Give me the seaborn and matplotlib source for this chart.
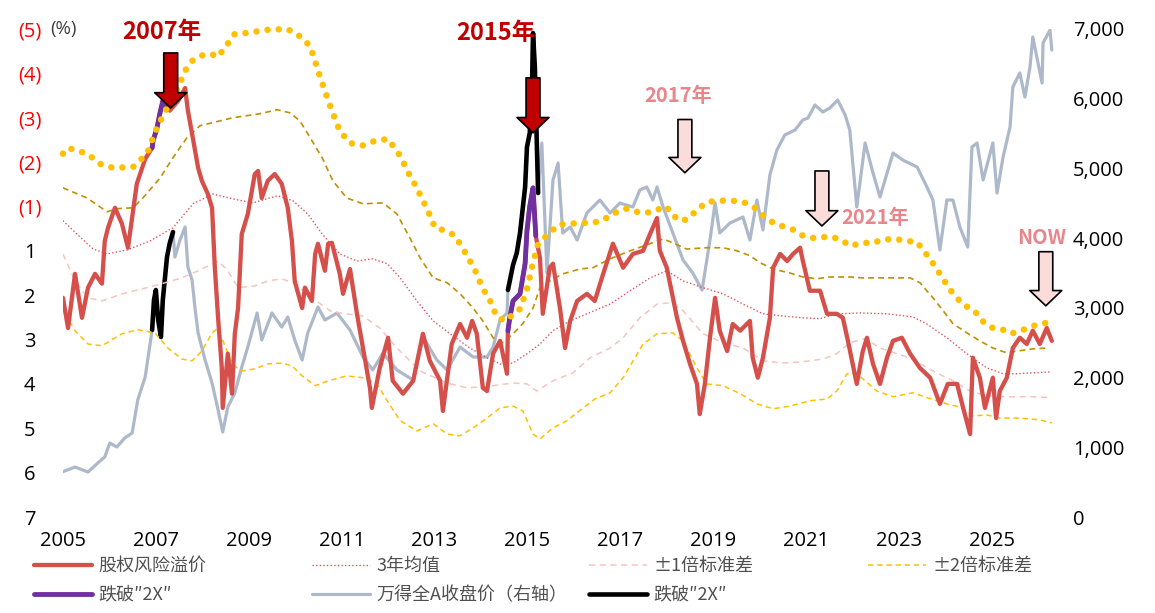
import numpy as np
import pandas as pd
import matplotlib
matplotlib.use("Agg")
import matplotlib.pyplot as plt
import seaborn as sns
from matplotlib.lines import Line2D

# equity risk premium (left axis, inverted), (year, value)
erp = [(2005.00, 2.06), (2005.11, 2.74), (2005.26, 1.52), (2005.41, 2.51), (2005.54, 1.83), (2005.69, 1.52),
       (2005.84, 1.74), (2005.90, 0.78), (2005.97, 0.48), (2006.12, 0.03), (2006.27, 0.39), (2006.40, 0.93),
       (2006.59, -0.51), (2006.77, -1.07), (2006.92, -1.32), (2006.94, -1.48), (2007.02, -1.75), (2007.09, -2.11),
       (2007.15, -2.38), (2007.22, -2.27), (2007.30, -2.16), (2007.48, -2.38), (2007.63, -2.67), (2007.69, -2.16),
       (2007.78, -1.64), (2007.91, -0.87), (2007.99, -0.58), (2008.12, -0.28), (2008.21, 0.03), (2008.27, 1.38),
       (2008.34, 2.51), (2008.42, 3.64), (2008.44, 4.54), (2008.55, 3.32), (2008.64, 4.22), (2008.70, 2.87),
       (2008.77, 2.29), (2008.85, 0.62), (2008.98, 0.17), (2009.13, -0.73), (2009.20, -0.80), (2009.28, -0.19),
       (2009.41, -0.58), (2009.56, -0.73), (2009.71, -0.51), (2009.84, 0.03), (2009.93, 0.78), (2009.99, 1.68),
       (2010.15, 2.29), (2010.21, 1.83), (2010.36, 2.13), (2010.43, 1.07), (2010.49, 0.84), (2010.64, 1.45),
       (2010.71, 0.84), (2010.79, 0.82), (2010.96, 1.52), (2011.03, 1.97), (2011.18, 1.41), (2011.33, 2.42),
       (2011.46, 3.19), (2011.61, 4.09), (2011.65, 4.54), (2011.82, 3.64), (2012.00, 2.96), (2012.10, 3.93),
       (2012.32, 4.22), (2012.54, 3.93), (2012.75, 2.87), (2012.90, 3.48), (2013.12, 3.93), (2013.18, 4.61),
       (2013.37, 3.10), (2013.55, 2.65), (2013.70, 2.96), (2013.81, 2.58), (2013.91, 2.87), (2014.04, 4.09),
       (2014.13, 4.16), (2014.26, 3.32), (2014.41, 3.03), (2014.56, 3.77), (2014.58, 2.80), (2014.62, 2.51),
       (2014.69, 2.13), (2014.84, 1.97), (2014.95, 1.29), (2014.99, 0.55), (2015.05, -0.01), (2015.12, -0.42),
       (2015.18, 0.66), (2015.20, 0.78), (2015.27, 1.16), (2015.33, 2.42), (2015.48, 1.38), (2015.55, 1.29),
       (2015.70, 2.29), (2015.81, 3.19), (2015.92, 2.58), (2016.07, 2.13), (2016.28, 1.97), (2016.45, 2.13),
       (2016.63, 1.52), (2016.84, 0.84), (2017.06, 1.38), (2017.27, 1.07), (2017.49, 1.00), (2017.64, 0.62),
       (2017.79, 0.26), (2017.85, 1.00), (2018.00, 1.38), (2018.07, 1.74), (2018.22, 2.51), (2018.35, 3.03),
       (2018.50, 3.55), (2018.65, 4.00), (2018.71, 4.68), (2018.82, 4.00), (2018.93, 2.96), (2019.04, 2.06),
       (2019.14, 2.80), (2019.30, 3.26), (2019.42, 2.65), (2019.58, 2.80), (2019.79, 2.58), (2019.85, 3.41),
       (2019.96, 3.86), (2020.07, 3.41), (2020.22, 2.51), (2020.29, 1.38), (2020.44, 1.07), (2020.59, 1.23),
       (2020.72, 1.07), (2020.87, 0.93), (2020.93, 1.23), (2021.08, 1.90), (2021.30, 1.90), (2021.45, 2.42),
       (2021.66, 2.42), (2021.79, 2.51), (2021.90, 3.03), (2022.09, 4.00), (2022.22, 3.26), (2022.31, 2.96),
       (2022.44, 3.55), (2022.59, 4.00), (2022.74, 3.41), (2022.87, 3.03), (2023.06, 2.96), (2023.24, 3.32),
       (2023.45, 3.64), (2023.67, 3.86), (2023.88, 4.45), (2024.05, 4.00), (2024.25, 4.00), (2024.38, 4.54),
       (2024.53, 5.13), (2024.59, 3.41), (2024.74, 3.86), (2024.85, 4.54), (2025.02, 3.86), (2025.09, 4.77),
       (2025.17, 4.16), (2025.32, 3.86), (2025.45, 3.19), (2025.60, 2.96), (2025.75, 3.10), (2025.88, 2.80),
       (2026.03, 3.10), (2026.18, 2.74), (2026.29, 3.03)]

# 3-year mean and the bands around it
mean_3y = [(2005.00, 0.32), (2005.30, 0.62), (2005.65, 0.96), (2005.95, 1.07), (2006.38, 0.98), (2006.87, 0.78),
           (2007.37, 0.48), (2007.80, -0.06), (2008.23, -0.28), (2008.66, -0.17), (2009.09, -0.08), (2009.61, -0.24),
           (2009.95, -0.13), (2010.27, 0.17), (2010.58, 0.62), (2010.96, 1.07), (2011.33, 1.23), (2011.67, 1.18),
           (2011.98, 1.29), (2012.26, 1.61), (2012.62, 2.13), (2012.97, 2.58), (2013.40, 2.92), (2013.76, 3.19),
           (2014.13, 3.41), (2014.41, 3.55), (2014.69, 3.53), (2014.99, 3.32), (2015.27, 3.10), (2015.55, 2.80),
           (2015.92, 2.58), (2016.28, 2.42), (2016.78, 2.20), (2017.21, 1.90), (2017.64, 1.61), (2018.00, 1.45),
           (2018.35, 1.68), (2018.78, 1.83), (2019.21, 1.97), (2019.64, 2.20), (2020.07, 2.42), (2020.50, 2.47),
           (2020.93, 2.51), (2021.30, 2.53), (2021.66, 2.42), (2022.16, 2.40), (2022.74, 2.42), (2023.30, 2.49),
           (2023.60, 2.65), (2024.03, 2.96), (2024.46, 3.32), (2024.89, 3.64), (2025.24, 3.77), (2025.54, 3.77),
           (2025.88, 3.75), (2026.29, 3.73)]

plus_1sd = [(2005.00, 1.07), (2005.26, 1.68), (2005.54, 2.06), (2005.84, 2.13), (2006.27, 1.97), (2006.70, 1.86),
            (2007.13, 1.74), (2007.56, 1.61), (2007.91, 1.45), (2008.34, 1.23), (2008.55, 1.45), (2008.77, 1.83),
            (2009.13, 1.79), (2009.41, 1.68), (2009.71, 1.63), (2009.99, 1.74), (2010.36, 2.06), (2010.75, 2.35),
            (2010.96, 2.40), (2011.46, 2.47), (2011.82, 2.74), (2012.19, 3.19), (2012.69, 3.71), (2013.27, 3.98),
            (2013.70, 4.09), (2014.26, 4.04), (2014.69, 3.98), (2014.99, 4.00), (2015.20, 4.16), (2015.55, 3.93),
            (2015.98, 3.75), (2016.35, 3.41), (2016.78, 3.19), (2017.06, 2.96), (2017.42, 2.51), (2017.79, 2.20),
            (2018.07, 2.17), (2018.35, 2.35), (2018.78, 2.87), (2019.21, 3.07), (2019.64, 3.19), (2020.07, 3.48),
            (2020.50, 3.53), (2020.93, 3.50), (2021.36, 3.44), (2021.66, 3.32), (2021.94, 3.07), (2022.27, 2.98),
            (2022.59, 3.19), (2022.96, 3.32), (2023.30, 3.44), (2023.73, 3.71), (2024.16, 3.93), (2024.53, 4.16),
            (2024.89, 4.27), (2025.32, 4.29), (2025.88, 4.29), (2026.29, 4.31)]

minus_1sd = [(2005.00, -0.42), (2005.52, -0.19), (2005.95, 0.12), (2006.16, 0.05), (2006.51, 0.03), (2006.72, -0.19),
             (2007.09, -0.64), (2007.37, -1.10), (2007.67, -1.55), (2007.95, -1.82), (2008.66, -2.00), (2009.24, -2.09),
             (2009.61, -2.18), (2009.89, -2.11), (2010.10, -1.93), (2010.27, -1.64), (2010.58, -1.10), (2010.81, -0.58),
             (2011.11, -0.19), (2011.46, -0.06), (2011.89, -0.08), (2012.19, 0.17), (2012.47, 0.71), (2012.69, 1.16),
             (2012.97, 1.61), (2013.27, 1.72), (2013.55, 1.97), (2013.83, 2.29), (2014.04, 2.58), (2014.26, 2.96),
             (2014.47, 3.07), (2014.69, 2.87), (2014.90, 2.64), (2015.12, 2.29), (2015.27, 1.83), (2015.48, 1.68),
             (2015.76, 1.52), (2016.13, 1.41), (2016.41, 1.38), (2016.78, 1.18), (2017.21, 1.00), (2017.64, 0.84),
             (2017.92, 0.73), (2018.13, 0.82), (2018.43, 0.96), (2018.86, 0.93), (2019.21, 0.93), (2019.51, 1.00),
             (2019.79, 1.11), (2020.01, 1.27), (2020.29, 1.41), (2020.65, 1.50), (2020.93, 1.59), (2021.23, 1.63),
             (2021.51, 1.59), (2021.94, 1.59), (2022.22, 1.61), (2023.24, 1.61), (2023.45, 1.72), (2023.73, 2.06),
             (2023.95, 2.35), (2024.16, 2.64), (2024.46, 2.85), (2024.74, 3.03), (2025.02, 3.19), (2025.32, 3.30),
             (2025.54, 3.26), (2025.88, 3.21), (2026.21, 3.19)]

plus_2sd = [(2005.04, 2.42), (2005.26, 2.80), (2005.54, 3.10), (2005.84, 3.14), (2006.27, 2.87), (2006.61, 2.78),
            (2006.98, 2.85), (2007.26, 3.19), (2007.56, 3.44), (2007.78, 3.48), (2007.99, 3.26), (2008.21, 2.85),
            (2008.32, 2.76), (2008.42, 2.96), (2008.64, 3.55), (2008.85, 3.71), (2009.13, 3.66), (2009.41, 3.55),
            (2009.71, 3.53), (2009.93, 3.59), (2010.15, 3.82), (2010.43, 4.04), (2010.71, 3.93), (2011.11, 3.82),
            (2011.46, 3.86), (2011.76, 4.00), (2011.98, 4.38), (2012.26, 4.83), (2012.62, 5.06), (2012.97, 4.90),
            (2013.27, 5.13), (2013.55, 5.17), (2013.83, 4.99), (2014.13, 4.77), (2014.41, 4.54), (2014.69, 4.50),
            (2014.90, 4.61), (2015.12, 5.13), (2015.27, 5.24), (2015.55, 4.99), (2015.85, 4.83), (2016.20, 4.54),
            (2016.45, 4.34), (2016.78, 4.20), (2017.06, 3.86), (2017.49, 3.10), (2017.79, 2.87), (2018.13, 2.85),
            (2018.35, 3.03), (2018.65, 3.64), (2018.86, 4.00), (2019.21, 4.04), (2019.58, 4.22), (2019.94, 4.45),
            (2020.29, 4.56), (2020.65, 4.50), (2021.08, 4.38), (2021.45, 4.34), (2021.66, 4.16), (2021.88, 3.77),
            (2022.09, 3.77), (2022.27, 3.93), (2022.52, 4.16), (2022.87, 4.29), (2023.30, 4.20), (2023.60, 4.31),
            (2024.03, 4.45), (2024.31, 4.52), (2024.59, 4.72), (2024.89, 4.70), (2025.17, 4.77), (2025.60, 4.77),
            (2026.03, 4.81), (2026.29, 4.88)]

minus_2sd = [(2005.00, -1.19), (2005.11, -1.32), (2005.52, -1.19), (2005.80, -0.96), (2006.08, -0.87),
             (2006.51, -0.89), (2006.81, -1.19), (2007.02, -1.77), (2007.24, -2.22), (2007.45, -2.61),
             (2007.63, -3.06), (2007.78, -3.28), (2007.95, -3.39), (2008.12, -3.44), (2008.38, -3.39),
             (2008.44, -3.55), (2008.60, -3.73), (2008.70, -3.89), (2008.96, -3.91), (2009.39, -3.98),
             (2009.82, -4.00), (2010.04, -3.89), (2010.32, -3.62), (2010.53, -2.94), (2010.75, -2.27),
             (2010.96, -1.70), (2011.18, -1.43), (2011.44, -1.37), (2011.72, -1.48), (2012.00, -1.52),
             (2012.26, -1.14), (2012.47, -0.69), (2012.62, -0.42), (2012.73, -0.17), (2012.84, 0.05),
             (2013.01, 0.48), (2013.25, 0.55), (2013.44, 0.66), (2013.65, 1.02), (2013.87, 1.43),
             (2014.04, 1.86), (2014.17, 2.06), (2014.34, 2.49), (2014.52, 2.58), (2014.84, 2.31),
             (2014.99, 1.86), (2015.10, 1.36), (2015.23, 0.84), (2015.53, 0.55), (2015.66, 0.41),
             (2015.92, 0.39), (2016.17, 0.37), (2016.39, 0.37), (2016.60, 0.32), (2016.93, 0.12),
             (2017.12, 0.05), (2017.36, 0.12), (2017.57, 0.14), (2017.77, 0.10), (2017.94, -0.01),
             (2018.11, 0.12), (2018.22, 0.30), (2018.43, 0.30), (2018.56, 0.17), (2018.71, 0.03),
             (2018.86, -0.10), (2019.12, -0.13), (2019.40, -0.13), (2019.64, -0.10), (2019.85, -0.01),
             (2020.01, 0.14), (2020.16, 0.28), (2020.33, 0.39), (2020.54, 0.46), (2020.74, 0.53),
             (2020.93, 0.66), (2021.15, 0.71), (2021.34, 0.69), (2021.58, 0.69), (2021.79, 0.78),
             (2021.96, 0.89), (2022.20, 0.82), (2022.44, 0.82), (2022.65, 0.75), (2022.91, 0.73),
             (2023.17, 0.78), (2023.39, 0.80), (2023.51, 0.98), (2023.64, 1.14), (2023.88, 1.52),
             (2024.10, 1.88), (2024.25, 2.06), (2024.38, 2.22), (2024.57, 2.31), (2024.70, 2.44),
             (2024.83, 2.62), (2025.02, 2.74), (2025.24, 2.78), (2025.41, 2.87), (2025.60, 2.80),
             (2025.80, 2.74), (2025.99, 2.65), (2026.23, 2.62)]

# Wind All A close (right axis)
wind_a = [(2005.00, 650), (2005.26, 717), (2005.54, 645), (2005.75, 775), (2005.90, 861), (2006.01, 1061),
          (2006.16, 1004), (2006.33, 1133), (2006.49, 1205), (2006.61, 1678), (2006.77, 2008), (2006.92, 2682),
          (2006.96, 3113), (2007.00, 3256), (2007.05, 2826), (2007.11, 2582), (2007.15, 3113), (2007.24, 3729),
          (2007.30, 3930), (2007.37, 4088), (2007.41, 3729), (2007.52, 3973), (2007.63, 4160), (2007.69, 3586),
          (2007.78, 3400), (2007.84, 3012), (2007.91, 2639), (2008.06, 2252), (2008.21, 1922), (2008.34, 1535),
          (2008.44, 1219), (2008.55, 1578), (2008.70, 1779), (2008.85, 2152), (2008.98, 2438), (2009.18, 2926),
          (2009.28, 2539), (2009.50, 2926), (2009.71, 2725), (2009.84, 2869), (2009.99, 2539), (2010.15, 2252),
          (2010.27, 2639), (2010.49, 3012), (2010.64, 2826), (2010.90, 2926), (2011.18, 2682), (2011.46, 2295),
          (2011.67, 2109), (2011.89, 2352), (2012.19, 2109), (2012.54, 1965), (2012.75, 2582), (2013.05, 2252),
          (2013.27, 2109), (2013.55, 2438), (2013.83, 2295), (2014.13, 2295), (2014.26, 2438), (2014.41, 2826),
          (2014.56, 2926), (2014.58, 3256), (2014.69, 3615), (2014.77, 3787), (2014.84, 4074), (2014.95, 4733),
          (2014.99, 5307), (2015.05, 5508), (2015.10, 6225), (2015.12, 6942), (2015.16, 6455), (2015.20, 5408),
          (2015.23, 4647), (2015.31, 5365), (2015.42, 3500), (2015.55, 4834), (2015.66, 5078), (2015.76, 4074),
          (2015.92, 4160), (2016.07, 3973), (2016.28, 4361), (2016.56, 4547), (2016.78, 4361), (2016.99, 4504),
          (2017.27, 4447), (2017.42, 4690), (2017.57, 4734), (2017.70, 4547), (2017.79, 4734), (2017.92, 4447),
          (2018.13, 4074), (2018.35, 3686), (2018.56, 3500), (2018.76, 3256), (2018.93, 3973), (2019.04, 4504),
          (2019.14, 4074), (2019.36, 4217), (2019.64, 4303), (2019.79, 3973), (2019.94, 4547), (2020.07, 4117),
          (2020.22, 4906), (2020.37, 5264), (2020.54, 5479), (2020.76, 5551), (2020.93, 5695), (2021.04, 5723),
          (2021.19, 5910), (2021.36, 5809), (2021.51, 5867), (2021.68, 5981), (2021.84, 5766), (2021.94, 5551),
          (2022.09, 4447), (2022.27, 5365), (2022.44, 4934), (2022.59, 4590), (2022.87, 5221), (2023.08, 5121),
          (2023.39, 5020), (2023.60, 4734), (2023.73, 4547), (2023.88, 3830), (2024.03, 4547), (2024.16, 4547),
          (2024.31, 4160), (2024.48, 3873), (2024.57, 5307), (2024.68, 5365), (2024.81, 4834), (2025.02, 5365),
          (2025.11, 4647), (2025.24, 5164), (2025.39, 5594), (2025.45, 6168), (2025.60, 6369), (2025.71, 6024),
          (2025.82, 6455), (2025.88, 6885), (2026.08, 6225), (2026.10, 6799), (2026.25, 6985), (2026.29, 6699)]

# periods where the premium broke the "2X" band
erp_break = [(2006.92, 2007.23), (2014.57, 2015.19)]
index_break = [(2006.92, 2007.38), (2014.57, 2015.24)]

erp_ticks = [-4, -3, -2, -1, 0, 1, 2, 3, 4, 5, 6, 7]
erp_tick_labels = ["(5)", "(4)", "(3)", "(2)", "(1)", "1", "2", "3", "4", "5", "6", "7"]
index_ticks = [0, 1000, 2000, 3000, 4000, 5000, 6000, 7000]
year_ticks = [2005, 2007, 2009, 2011, 2013, 2015, 2017, 2019, 2021, 2023, 2025]

# callouts: (label, text x, text y, arrow x, arrow top, arrow tip, strong colour?)
callouts = [("2007年", 2007.12, -3.94, 2007.32, -3.46, -2.22, True),
            ("2015年", 2014.32, -3.91, 2015.12, -2.90, -1.66, True),
            ("2017年", 2018.24, -2.49, 2018.39, -1.96, -0.76, False),
            ("2021年", 2022.48, 0.26, 2021.34, -0.80, 0.44, False),
            ("NOW", 2026.07, 0.71, 2026.16, 1.02, 2.24, False)]

RED = "#d5504b"
PURPLE = "#7030a0"
GREY = "#adb9ca"
GOLD = "#ffc000"
DARK_GOLD = "#bf9000"
PINK = "#f7c4bd"
MEAN_RED = "#e0525a"
CJK = ["Noto Sans CJK SC", "DejaVu Sans"]

sns.set_theme(style="white")
plt.rcParams["font.family"] = ["Open Sans", "Noto Sans CJK SC", "DejaVu Sans"]

fig = plt.figure(figsize=(11.55, 6.13), dpi=100)
ax = fig.add_axes([0.0545, 0.1566, 0.8586, 0.7961])
ax2 = ax.twinx()
ax.set_zorder(ax2.get_zorder() + 1)
ax.patch.set_visible(False)


def draw(axis, pts, **kw):
    df = pd.DataFrame(pts, columns=["year", "value"])
    sns.lineplot(data=df, x="year", y="value", ax=axis, sort=False,
                 estimator=None, legend=False, **kw)
    return axis.lines[-1]


def pick(pts, periods):
    return [[p for p in pts if a <= p[0] <= b] for a, b in periods]


# right axis: index
draw(ax2, wind_a, color=GREY, linewidth=2.3, zorder=2)
for seg in pick(wind_a, index_break):
    draw(ax2, seg, color="black", linewidth=3.3, zorder=3)

# left axis: premium and bands
draw(ax, plus_2sd, color=GOLD, linewidth=1.1, linestyle=(0, (3.5, 2.5)), zorder=2)
draw(ax, plus_1sd, color=PINK, linewidth=1.1, linestyle=(0, (4, 3)), zorder=2)
draw(ax, mean_3y, color=MEAN_RED, linewidth=1.0, linestyle=(0, (1, 1.6)), zorder=2)
draw(ax, minus_1sd, color=DARK_GOLD, linewidth=1.2, linestyle=(0, (3.5, 2.5)), zorder=2)
draw(ax, erp, color=RED, linewidth=3.1, zorder=3)
for seg in pick(erp, erp_break):
    draw(ax, seg, color=PURPLE, linewidth=3.5, zorder=4)
dots = draw(ax, minus_2sd, color=GOLD, linewidth=4.7, linestyle=(0, (0.01, 1.7)),
            dash_capstyle="round", zorder=5)
dots.set_clip_on(False)

for label, tx, ty, axx, y0, y1, strong in callouts:
    fc = "#c00000" if strong else "#fbdcda"
    tc = "#c00000" if strong else "#e8868c"
    ax.annotate("", xy=(axx, y1), xytext=(axx, y0),
                arrowprops=dict(arrowstyle="simple,head_width=2.3,head_length=1.1,tail_width=1.0",
                                mutation_scale=10, fc=fc, ec="black", lw=1.2,
                                shrinkA=0, shrinkB=0), zorder=6)
    ax.text(tx, ty, label, color=tc, fontsize=17 if strong else 14.5, fontweight="bold",
            ha="center", va="center", family=CJK, zorder=6)

ax.set_xlim(2005, 2026.35)
ax.set_ylim(7, -4)
ax2.set_ylim(0, 7000)

ax.set_xticks(year_ticks)
ax.set_xticklabels([str(y) for y in year_ticks])
ax.set_yticks(erp_ticks)
ax.set_yticklabels(erp_tick_labels, ha="center")
for t, lab in zip(ax.get_yticklabels(), erp_tick_labels):
    t.set_color("#ff0000" if lab.startswith("(") else "black")
ax.tick_params(axis="x", length=0, pad=10, labelsize=14.5, colors="black")
ax.tick_params(axis="y", length=0, pad=24, labelsize=14.5)
ax2.set_yticks(index_ticks)
ax2.set_yticklabels([f"{v:,}" for v in index_ticks])
ax2.tick_params(axis="y", length=0, pad=13, labelsize=14.5, colors="black")
for a in (ax, ax2):
    a.set_xlabel("")
    a.set_ylabel("")
    a.grid(False)
    for s in a.spines.values():
        s.set_visible(False)

ax.text(-0.013, 1.0, "(%)", transform=ax.transAxes, ha="left", va="center",
        fontsize=13.5, color="#404040")

# legend: four columns placed by hand
h_erp = Line2D([], [], color=RED, linewidth=3.1)
h_mean = Line2D([], [], color=MEAN_RED, linewidth=1.0, linestyle=(0, (1, 1.6)))
h_1sd = Line2D([], [], color=PINK, linewidth=1.1, linestyle=(0, (4, 3)))
h_2sd = Line2D([], [], color=GOLD, linewidth=1.1, linestyle=(0, (3.5, 2.5)))
h_purple = Line2D([], [], color=PURPLE, linewidth=3.5)
h_index = Line2D([], [], color=GREY, linewidth=2.3)
h_black = Line2D([], [], color="black", linewidth=3.3)

columns = [([h_erp, h_purple], ["股权风险溢价", "跌破″2X″"], 34),
           ([h_mean, h_index], ["3年均值", "万得全A收盘价（右轴）"], 312),
           ([h_1sd, h_black], ["±1倍标准差", "跌破″2X″"], 589),
           ([h_2sd], ["±2倍标准差"], 868)]
for handles, labels, xpx in columns:
    fig.legend(handles=handles, labels=labels, loc="upper left",
               bbox_to_anchor=(xpx / 1155, 1 - 557 / 613), frameon=False,
               prop=dict(family=CJK, size=13), labelcolor="#505050",
               handlelength=3.2, handletextpad=0.35, labelspacing=0.6,
               borderpad=0, borderaxespad=0)

fig.savefig("out.png", dpi=100)
